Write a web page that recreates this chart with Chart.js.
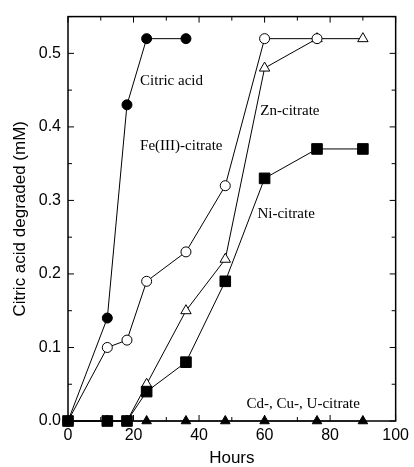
<!DOCTYPE html>
<html>
<head>
<meta charset="utf-8">
<script src="https://cdn.jsdelivr.net/npm/chart.js@4/dist/chart.umd.min.js"></script>
<style>
  body { margin: 0; background: #fff; }
  #wrap { width: 414px; height: 467px; }
</style>
</head>
<body>
<div id="wrap"><canvas id="degChart" width="414" height="467"></canvas></div>
<script>
// data
const citricHours = [0, 12, 18, 24, 36];
const citricAcid  = [0, 0.14, 0.43, 0.52, 0.52];

const feHours     = [0, 12, 18, 24, 36, 48, 60, 76];
const feCitrate   = [0, 0.10, 0.11, 0.19, 0.23, 0.32, 0.52, 0.52];

const znHours     = [0, 12, 18, 24, 36, 48, 60, 76, 90];
const znCitrate   = [0, 0, 0, 0.05, 0.15, 0.22, 0.48, 0.52, 0.52];

const niHours     = [0, 12, 18, 24, 36, 48, 60, 76, 90];
const niCitrate   = [0, 0, 0, 0.04, 0.08, 0.19, 0.33, 0.37, 0.37];

const cdHours     = [0, 12, 18, 24, 36, 48, 60, 76, 90];
const cdCitrate   = [0, 0, 0, 0, 0, 0, 0, 0, 0];

const xTicks = [0, 20, 40, 60, 80, 100];
const yTicks = [0.0, 0.1, 0.2, 0.3, 0.4, 0.5];

const toPoints = (xs, ys) => xs.map((x, i) => ({ x: x, y: ys[i] }));

// series labels placed inside the plot (data coords)
const notes = [
    { text: 'Citric acid', x: 22, y: 0.462 },
    { text: 'Fe(III)-citrate', x: 22, y: 0.374 },
    { text: 'Zn-citrate', x: 58.7, y: 0.421 },
    { text: 'Ni-citrate', x: 57.8, y: 0.282 },
    { text: 'Cd-, Cu-, U-citrate', x: 54.5, y: 0.023 }
];

//frame + inward ticks on all four sides
const framePlugin = {
    id: 'frame',
    beforeDatasetsDraw(chart) {
        const { ctx, chartArea: a, scales: { x, y } } = chart;
        ctx.save();
        ctx.strokeStyle = '#000';
        ctx.lineWidth = 1.5;
        ctx.strokeRect(a.left, a.top, a.right - a.left, a.bottom - a.top);
        ctx.lineWidth = 1;
        ctx.beginPath();
        for (let v = 0; v <= 100; v += 10) {
            const px = x.getPixelForValue(v);
            const len = v % 20 === 0 ? 6 : 4;
            ctx.moveTo(px, a.bottom); ctx.lineTo(px, a.bottom - len);
            ctx.moveTo(px, a.top); ctx.lineTo(px, a.top + len);
        }
        for (let i = 0; i <= 11; i++) {
            const py = y.getPixelForValue(i * 0.05);
            const len = i % 2 === 0 ? 6 : 4;
            ctx.moveTo(a.left, py); ctx.lineTo(a.left + len, py);
            ctx.moveTo(a.right, py); ctx.lineTo(a.right - len, py);
        }
        ctx.stroke();
        ctx.restore();
    },
    afterDraw(chart) {
        const { ctx, scales: { x, y } } = chart;
        ctx.save();
        ctx.fillStyle = '#000';
        ctx.font = '15px "Liberation Serif", "Times New Roman", serif';
        ctx.textAlign = 'left';
        ctx.textBaseline = 'middle';
        notes.forEach(n => {
            ctx.fillText(n.text, x.getPixelForValue(n.x), y.getPixelForValue(n.y));
        });
        ctx.restore();
    }
};

const line = (pts, style, radius, fill, order) => ({
    data: pts,
    showLine: true,
    borderColor: '#000',
    borderWidth: 1,
    pointStyle: style,
    pointRadius: radius,
    pointHoverRadius: radius,
    pointBackgroundColor: fill,
    pointBorderColor: '#000',
    pointBorderWidth: 1,
    clip: false,
    order: order
});

const degChart = new Chart(document.getElementById('degChart'), {
    type: 'scatter',
    data: {
        datasets: [
            line(toPoints(citricHours, citricAcid), 'circle', 5, '#000', 0),
            line(toPoints(feHours, feCitrate), 'circle', 5, '#fff', 1),
            line(toPoints(niHours, niCitrate), 'rect', 7.5, '#000', 2),
            line(toPoints(znHours, znCitrate), 'triangle', 6, '#fff', 3),
            line(toPoints(cdHours, cdCitrate), 'triangle', 5.5, '#000', 4)
        ]
    },
    options: {
        responsive: false,
        animation: false,
        layout: { padding: { top: 12, right: 12, left: 0, bottom: 0 } },
        plugins: { legend: { display: false }, tooltip: { enabled: false } },
        scales: {
            x: {
                type: 'linear',
                min: 0, max: 100,
                afterFit: s => { s.height = 46; },
                afterBuildTicks: s => { s.ticks = xTicks.map(v => ({ value: v })); },
                grid: { display: false, drawTicks: false },
                border: { display: false },
                ticks: { color: '#000', padding: 5, font: { family: '"Liberation Sans", Arial, sans-serif', size: 16 } },
                title: { display: true, text: 'Hours', color: '#000', padding: 0,
                         font: { family: '"Liberation Sans", Arial, sans-serif', size: 17, lineHeight: 1 } }
            },
            y: {
                type: 'linear',
                min: 0, max: 0.55,
                afterFit: s => { s.width = 68; },
                afterBuildTicks: s => { s.ticks = yTicks.map(v => ({ value: v })); },
                grid: { display: false, drawTicks: false },
                border: { display: false },
                ticks: { color: '#000', padding: 7, callback: v => v.toFixed(1),
                         font: { family: '"Liberation Sans", Arial, sans-serif', size: 16 } },
                title: { display: true, text: 'Citric acid degraded (mM)', color: '#000', padding: { top: 10 },
                         font: { family: '"Liberation Sans", Arial, sans-serif', size: 17, lineHeight: 1.2 } }
            }
        }
    },
    plugins: [framePlugin]
});
</script>
</body>
</html>
